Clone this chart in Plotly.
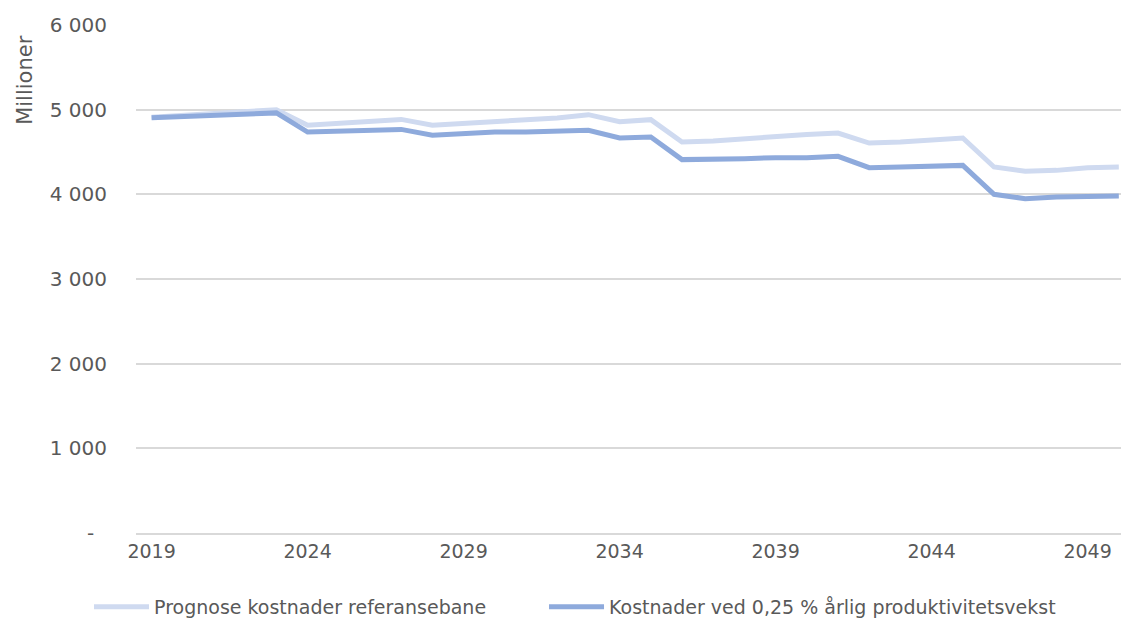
import plotly.graph_objects as go

years = list(range(2019, 2051))

# Prognose kostnader referansebane (millioner)
referanse = [4910, 4935, 4960, 4975, 5000, 4815, 4840, 4860, 4885, 4815,
             4835, 4862, 4885, 4902, 4941, 4858, 4882, 4618, 4630, 4658,
             4677, 4708, 4724, 4606, 4618, 4646, 4665, 4323, 4272, 4283,
             4315, 4323]

# Kostnader ved 0,25 % årlig produktivitetsvekst (millioner)
produktivitet = [4906, 4920, 4930, 4945, 4962, 4736, 4750, 4760, 4767, 4697,
                 4717, 4736, 4736, 4748, 4756, 4665, 4677, 4410, 4410, 4421,
                 4433, 4433, 4449, 4315, 4323, 4331, 4342, 4000, 3949, 3968,
                 3968, 3980]

y_ticks = [0, 1000, 2000, 3000, 4000, 5000, 6000]
y_ticktext = ["-\u00a0\u00a0", "1 000", "2 000", "3 000", "4 000", "5 000", "6 000"]
x_ticks = [2019, 2024, 2029, 2034, 2039, 2044, 2049]

FONT = "DejaVu Sans"
GREY = "#595959"

fig = go.Figure()
fig.add_trace(go.Scatter(
    x=years, y=referanse, mode="lines",
    name="Prognose kostnader referansebane",
    line=dict(color="#cfdaf0", width=5), legend="legend",
))
fig.add_trace(go.Scatter(
    x=years, y=produktivitet, mode="lines",
    name="Kostnader ved 0,25 % årlig produktivitetsvekst",
    line=dict(color="#8eaadc", width=5), legend="legend2",
))

leg = dict(
    orientation="h", xref="container", yref="container",
    xanchor="left", y=0.0194, yanchor="middle",
    font=dict(size=19, color=GREY), itemwidth=55, bgcolor="rgba(0,0,0,0)",
)

fig.update_layout(
    width=1121, height=619,
    margin=dict(l=136, r=0, t=25, b=86, autoexpand=False),
    plot_bgcolor="white", paper_bgcolor="white",
    font=dict(family=FONT, size=19, color=GREY),
    showlegend=True,
    legend=dict(leg, x=0.0794),
    legend2=dict(leg, x=0.4853),
    xaxis=dict(
        range=[2018.5, 2050.07], tickvals=x_ticks, ticks="",
        showgrid=False, showline=True, linecolor="#d9d9d9", linewidth=1.5,
        zeroline=False, tickfont=dict(size=19, color=GREY),
    ),
    yaxis=dict(
        range=[0, 6000], tickvals=y_ticks, ticktext=y_ticktext, ticks="",
        showgrid=True, gridcolor="#d9d9d9", gridwidth=1.5, zeroline=False,
        showline=False, ticklabelstandoff=28, tickfont=dict(size=20, color=GREY),
    ),
    annotations=[dict(
        text="Millioner", textangle=-90, xref="paper", yref="paper",
        x=-0.1127, y=0.892, xanchor="center", yanchor="middle",
        showarrow=False, font=dict(size=21, color=GREY),
    )],
)

fig.write_html(
    "out.html",
    config={"displayModeBar": False},
    post_script="document.body.style.margin='0px';document.body.style.overflow='hidden';",
)
